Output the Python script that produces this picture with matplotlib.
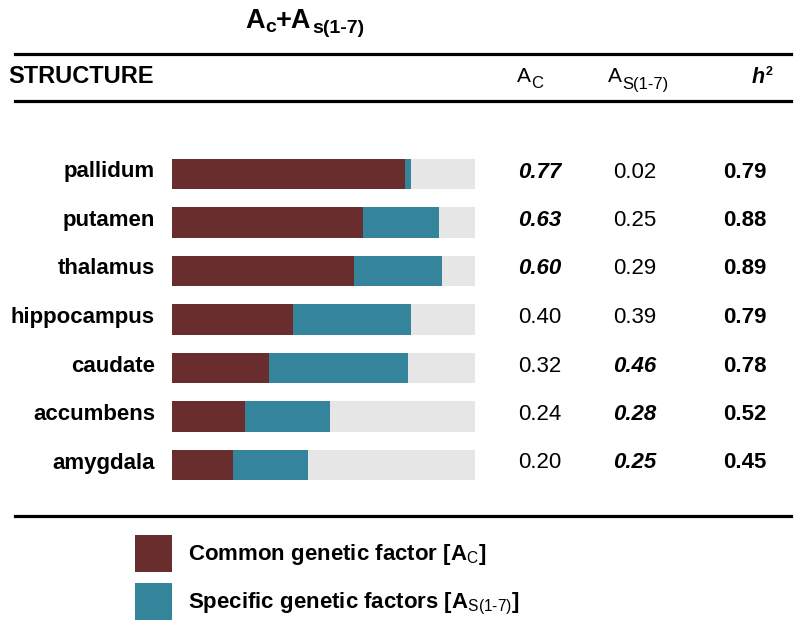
import matplotlib
matplotlib.use("Agg")
import matplotlib.pyplot as plt
from matplotlib.transforms import blended_transform_factory

plt.rcParams['font.family'] = ['Liberation Sans', 'DejaVu Sans']
plt.rcParams['mathtext.fontset'] = 'custom'
plt.rcParams['mathtext.rm'] = 'Liberation Sans'
plt.rcParams['mathtext.bf'] = 'Liberation Sans:bold'
plt.rcParams['mathtext.it'] = 'Liberation Sans:italic'

# ---- data ----
structures = ['pallidum', 'putamen', 'thalamus', 'hippocampus', 'caudate', 'accumbens', 'amygdala']
ac_values = [0.77, 0.63, 0.60, 0.40, 0.32, 0.24, 0.20]
as_values = [0.02, 0.25, 0.29, 0.39, 0.46, 0.28, 0.25]
h2_values = [0.79, 0.88, 0.89, 0.79, 0.78, 0.52, 0.45]
ac_emph = [True, True, True, False, False, False, False]
as_emph = [False, False, False, False, True, True, True]
legend_labels = ['Common genetic factor [A$_{\\mathrm{C}}$]',
                 'Specific genetic factors [A$_{\\mathrm{S(1\\text{-}7)}}$]']

W, H = 800, 628
RED = '#692d2d'
TEAL = '#34859b'
GRAY = '#e6e6e6'

fig = plt.figure(figsize=(W / 100, H / 100), dpi=100)

def fx(px):
    return px / W

def fy(py):
    return 1 - py / H

# ---- bar axes ----
n = len(structures)
spacing = 48.5
c0 = 174.0
top = c0 - spacing / 2
bottom = c0 + spacing * (n - 0.5)
ax = fig.add_axes([fx(172), fy(bottom), fx(475) - fx(172), (bottom - top) / H])
ypos = list(range(n))
ax.barh(ypos, [1.0] * n, height=0.62, color=GRAY, edgecolor='none')
b1 = ax.barh(ypos, ac_values, height=0.62, color=RED, edgecolor='none', label=legend_labels[0])
b2 = ax.barh(ypos, as_values, left=ac_values, height=0.62, color=TEAL, edgecolor='none',
             label=legend_labels[1])
ax.set_xlim(0, 1)
ax.set_ylim(n - 0.5, -0.5)
ax.axis('off')

tr = blended_transform_factory(fig.transFigure, ax.transData)
dy = 3.5 / spacing
for i, name in enumerate(structures):
    y = i + dy
    fig.text(fx(155), y, name, transform=tr, ha='right', va='baseline',
             fontsize=16, fontweight='bold')
    fig.text(fx(539.5), y, f'{ac_values[i]:.2f}', transform=tr, ha='center', va='baseline',
             fontsize=16, fontweight='bold' if ac_emph[i] else 'normal',
             fontstyle='italic' if ac_emph[i] else 'normal')
    fig.text(fx(634.5), y, f'{as_values[i]:.2f}', transform=tr, ha='center', va='baseline',
             fontsize=16, fontweight='bold' if as_emph[i] else 'normal',
             fontstyle='italic' if as_emph[i] else 'normal')
    fig.text(fx(744.5), y, f'{h2_values[i]:.2f}', transform=tr, ha='center', va='baseline',
             fontsize=16, fontweight='bold')

# ---- rich text helper: chain pieces with baseline shifts ----
def rich(x_px, base_px, parts):
    prev = None
    for txt, size, weight, style, shift in parts:
        yb = fy(base_px + shift)
        if prev is None:
            t = fig.text(fx(x_px), yb, txt, ha='left', va='baseline', fontsize=size,
                         fontweight=weight, fontstyle=style)
        else:
            t = fig.add_artist(plt.Annotation(txt, xy=(1, yb), xycoords=(prev, 'figure fraction'),
                                              xytext=(0.3, 0), textcoords='offset points',
                                              ha='left', va='baseline', fontsize=size,
                                              fontweight=weight, fontstyle=style))
        prev = t

# title
rich(245, 28, [('A', 19.5, 'bold', 'normal', 0),
               ('c', 14, 'bold', 'normal', 4),
               ('+A', 19.5, 'bold', 'normal', 0),
               ('s(1-7)', 14, 'bold', 'normal', 5)])

# header row
fig.text(fx(8), fy(83), 'STRUCTURE', ha='left', va='baseline', fontsize=17, fontweight='bold')
rich(517, 82, [('A', 15, 'normal', 'normal', 0), ('C', 12, 'normal', 'normal', 6)])
rich(608, 82, [('A', 15, 'normal', 'normal', 0), ('S(1-7)', 12, 'normal', 'normal', 7)])
rich(752, 83, [('h', 15.5, 'bold', 'italic', 0), ('2', 9, 'bold', 'normal', -8)])

# horizontal rules
for yline in (54, 101, 516):
    fig.add_artist(plt.Line2D([fx(15), fx(791)], [fy(yline), fy(yline)], color='black',
                              linewidth=2.3, transform=fig.transFigure))

# legend
sq = 37 / 100 * 72  # square size in points
fs = 16
hh = (sq / fs - 0.245) / 0.65
fig.legend(handles=[b1, b2], labels=legend_labels, loc='upper left',
           bbox_to_anchor=(fx(135), fy(535)), bbox_transform=fig.transFigure,
           frameon=False, prop={'weight': 'bold', 'size': fs},
           handlelength=sq / fs, handleheight=hh, handletextpad=0.7,
           labelspacing=0.5, borderpad=0, borderaxespad=0)

fig.savefig('out.png', dpi=100)
